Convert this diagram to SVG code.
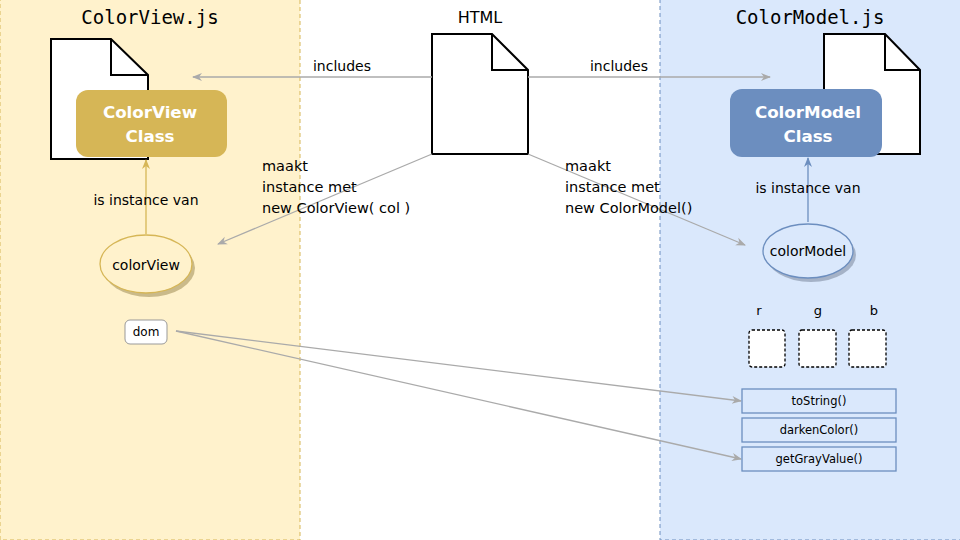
<svg xmlns="http://www.w3.org/2000/svg" width="960" height="540" viewBox="0 0 960 540">
<defs>
<marker id="ag" viewBox="0 0 10 10" refX="9" refY="5" markerWidth="10" markerHeight="10" markerUnits="userSpaceOnUse" orient="auto">
<path d="M0,1 L10,5 L0,9 L3,5 Z" fill="#aaaaaa"/>
</marker>
<marker id="ay" viewBox="0 0 10 10" refX="9" refY="5" markerWidth="10" markerHeight="10" markerUnits="userSpaceOnUse" orient="auto">
<path d="M0,1 L10,5 L0,9 L3,5 Z" fill="#d6b656"/>
</marker>
<marker id="ab" viewBox="0 0 10 10" refX="9" refY="5" markerWidth="10" markerHeight="10" markerUnits="userSpaceOnUse" orient="auto">
<path d="M0,1 L10,5 L0,9 L3,5 Z" fill="#6c8ebf"/>
</marker>
</defs>
<style>
text{font-family:"DejaVu Sans","Liberation Sans",sans-serif;fill:#000}
.title{font-family:"DejaVu Sans Mono","Liberation Mono",monospace;font-size:19px;text-anchor:middle}
.lbl{font-size:14px}
.mk{font-size:14.5px}
.mid{text-anchor:middle}
.cls{font-size:16.7px;font-weight:bold;fill:#fff;text-anchor:middle}
.doc{fill:#fff;stroke:#000;stroke-width:2}
.gl{stroke:#aaaaaa;stroke-width:1.3;fill:none;marker-end:url(#ag)}
.meth{fill:#dae8fc;stroke:#6c8ebf;stroke-width:1.3}
.mt{font-size:11.5px;text-anchor:middle}
.var{fill:#fff;stroke:#000;stroke-width:1.3;stroke-dasharray:3,2}
</style>
<g id="panel-view">
<rect x="0" y="-1" width="300" height="541" fill="#fff2cc" stroke="#d6b656" stroke-dasharray="4,3"/>
<text class="title" x="150" y="24">ColorView.js</text>
</g>
<g id="panel-model">
<rect x="660" y="-1" width="301" height="541" fill="#dae8fc" stroke="#6c8ebf" stroke-dasharray="4,3"/>
<text class="title" x="810" y="24">ColorModel.js</text>
</g>
<g id="html-doc">
<text x="480" y="23" font-size="16" class="mid">HTML</text>
<path class="doc" d="M432,34 L492,34 L528,70 L528,154 L432,154 Z"/>
<path d="M492,34 L492,70 L528,70" fill="none" stroke="#000" stroke-width="2"/>
</g>
<g id="view-doc">
<path class="doc" d="M51,39 L111,39 L148,75 L148,159 L51,159 Z"/>
<path d="M111,39 L111,75 L148,75" fill="none" stroke="#000" stroke-width="2"/>
</g>
<g id="model-doc">
<path class="doc" d="M824,34 L885,34 L920,70 L920,154 L824,154 Z"/>
<path d="M885,34 L885,70 L920,70" fill="none" stroke="#000" stroke-width="2"/>
</g>
<g id="connectors">
<line class="gl" x1="432" y1="77" x2="193" y2="77"/>
<line class="gl" x1="528" y1="77" x2="770" y2="77"/>
<line class="gl" x1="432" y1="154" x2="218" y2="244"/>
<line class="gl" x1="528" y1="154" x2="745" y2="245"/>
<line x1="146" y1="234" x2="146" y2="160" stroke="#d6b656" stroke-width="1.3" marker-end="url(#ay)"/>
<line x1="808" y1="222" x2="808" y2="158" stroke="#6c8ebf" stroke-width="1.3" marker-end="url(#ab)"/>
<line class="gl" x1="176" y1="331" x2="741" y2="401"/>
<line class="gl" x1="176" y1="331" x2="741" y2="459"/>
<text class="lbl mid" x="342" y="71">includes</text>
<text class="lbl mid" x="619" y="71">includes</text>
<text class="mk" x="262" y="171">maakt</text>
<text class="mk" x="262" y="192">instance met</text>
<text class="mk" x="262" y="213">new ColorView( col )</text>
<text class="mk" x="565" y="171">maakt</text>
<text class="mk" x="565" y="192">instance met</text>
<text class="mk" x="565" y="213">new ColorModel()</text>
<text class="lbl mid" x="146" y="205">is instance van</text>
<text class="lbl mid" x="808" y="193">is instance van</text>
</g>
<g id="colorview-class">
<rect x="76" y="90" width="151" height="67" rx="12" fill="#d6b656"/>
<text class="cls" x="150" y="118">ColorView</text>
<text class="cls" x="150" y="142">Class</text>
</g>
<g id="colormodel-class">
<rect x="730" y="89" width="152" height="68" rx="12" fill="#6c8ebf"/>
<text class="cls" x="808" y="118">ColorModel</text>
<text class="cls" x="808" y="142">Class</text>
</g>
<g id="colorview">
<ellipse cx="149" cy="268" rx="46" ry="29" fill="#b3a36e" opacity="0.7"/>
<ellipse cx="146" cy="264" rx="46" ry="29" fill="#fff2cc" stroke="#d6b656" stroke-width="1.3"/>
<text class="lbl mid" x="146" y="270">colorView</text>
</g>
<g id="colormodel">
<ellipse cx="811" cy="255" rx="45" ry="27" fill="#8f9bb0" opacity="0.7"/>
<ellipse cx="808" cy="251" rx="45" ry="27" fill="#dae8fc" stroke="#6c8ebf" stroke-width="1.3"/>
<text class="lbl mid" x="808" y="256">colorModel</text>
</g>
<g id="dom">
<rect x="125" y="320" width="42" height="24" rx="5" fill="#fff" stroke="#999" stroke-width="1"/>
<text x="146" y="336" font-size="12" class="mid">dom</text>
</g>
<g id="rgb">
<text x="759" y="315" font-size="13" class="mid">r</text>
<text x="818" y="315" font-size="13" class="mid">g</text>
<text x="874" y="315" font-size="13" class="mid">b</text>
<rect class="var" x="749" y="330" width="36" height="37" rx="3"/>
<rect class="var" x="799" y="330" width="37" height="37" rx="3"/>
<rect class="var" x="849" y="330" width="37" height="37" rx="3"/>
</g>
<g id="tostring">
<rect class="meth" x="742" y="389" width="154" height="24"/>
<text class="mt" x="819" y="405">toString()</text>
</g>
<g id="darkencolor">
<rect class="meth" x="742" y="418" width="154" height="24"/>
<text class="mt" x="819" y="434">darkenColor()</text>
</g>
<g id="getgrayvalue">
<rect class="meth" x="742" y="447" width="154" height="24"/>
<text class="mt" x="819" y="463">getGrayValue()</text>
</g>
</svg>
